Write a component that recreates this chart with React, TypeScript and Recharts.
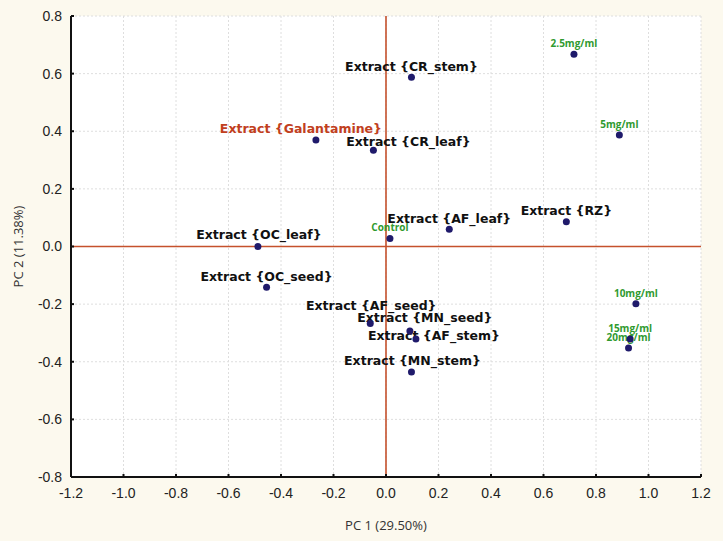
import { ScatterChart, Scatter, XAxis, YAxis, CartesianGrid, ReferenceLine } from 'recharts';

// plant extracts
const EXTRACT_NAMES = [
  'Extract {CR_stem}',
  'Extract {CR_leaf}',
  'Extract {OC_leaf}',
  'Extract {AF_leaf}',
  'Extract {RZ}',
  'Extract {OC_seed}',
  'Extract {AF_seed}',
  'Extract {MN_seed}',
  'Extract {AF_stem}',
  'Extract {MN_stem}',
];
const EXTRACT_PC1 = [0.097, -0.048, -0.488, 0.241, 0.687, -0.455, -0.06, 0.091, 0.114, 0.097];
const EXTRACT_PC2 = [0.587, 0.334, 0.0, 0.06, 0.086, -0.141, -0.267, -0.293, -0.321, -0.436];

// reference drug
const DRUG_NAMES = ['Extract {Galantamine}'];
const DRUG_PC1 = [-0.267];
const DRUG_PC2 = [0.37];

// control + concentrations
const STANDARD_NAMES = ['Control', '2.5mg/ml', '5mg/ml', '10mg/ml', '15mg/ml', '20mg/ml'];
const STANDARD_PC1 = [0.015, 0.716, 0.889, 0.952, 0.93, 0.924];
const STANDARD_PC2 = [0.028, 0.667, 0.387, -0.199, -0.321, -0.352];

const TICKS = [-1.2, -1.0, -0.8, -0.6, -0.4, -0.2, 0, 0.2, 0.4, 0.6, 0.8, 1.0, 1.2];
const Y_TICKS = [-0.8, -0.6, -0.4, -0.2, 0, 0.2, 0.4, 0.6, 0.8];

// label placement relative to the dot (text centre)
const LABEL_SHIFT: Record<string, [number, number]> = {
  'Extract {Galantamine}': [-15, -11],
  'Extract {CR_leaf}': [35, -9],
  'Extract {AF_seed}': [1, -18],
  'Extract {MN_seed}': [15, -13],
  'Extract {AF_stem}': [18, -3],
  'Extract {OC_leaf}': [1, -12],
  'Extract {MN_stem}': [1, -12],
};

const toPoints = (names: string[], xs: number[], ys: number[]) =>
  names.map((name, i) => ({ name, x: xs[i], y: ys[i] }));

const extracts = toPoints(EXTRACT_NAMES, EXTRACT_PC1, EXTRACT_PC2);
const drug = toPoints(DRUG_NAMES, DRUG_PC1, DRUG_PC2);
const standards = toPoints(STANDARD_NAMES, STANDARD_PC1, STANDARD_PC2);

const AXIS_RED = '#c5512c';
const DOT = '#1f1a6b';
const tickStyle = { fontSize: 14, fill: '#222', fontFamily: 'Liberation Sans, Arial, sans-serif' };

const makeLabel = (color: string, font: string, size: number) => (props: any) => {
  const { cx, cy, payload } = props;
  const [dx, dy] = LABEL_SHIFT[payload.name] ?? [0, -11];
  return (
    <text
      x={cx + dx}
      y={cy + dy}
      textAnchor="middle"
      dominantBaseline="central"
      fill={color}
      fontFamily={font}
      fontWeight="bold"
      fontSize={size}
    >
      {payload.name}
    </text>
  );
};

const dotShape = (props: any) => <circle cx={props.cx} cy={props.cy} r={3.5} fill={DOT} />;

export default function App() {
  return (
    <div style={{ position: 'fixed', left: 0, top: 0, width: 723, height: 541, background: '#fcf9ee' }}>
      <ScatterChart width={723} height={541} margin={{ top: 16, right: 22, bottom: 24, left: 0 }}>
        <CartesianGrid fill="#fff" stroke="#dedede" strokeDasharray="2 2" />
        <XAxis
          type="number"
          dataKey="x"
          domain={[-1.2, 1.2]}
          ticks={TICKS}
          tickFormatter={(v: number) => v.toFixed(1)}
          allowDataOverflow
          height={40}
          stroke="#111"
          strokeWidth={2}
          tickSize={-3}
          tickMargin={14}
          tick={tickStyle}
          label={(p: any) => {
            const vb = p.viewBox;
            return (
              <text
                x={vb.x + vb.width / 2}
                y={vb.y + 48}
                textAnchor="middle"
                dominantBaseline="central"
                fontFamily="Open Sans, sans-serif"
                fontSize={13}
                fill="#333"
              >
                PC 1 (29.50%)
              </text>
            );
          }}
        />
        <XAxis
          xAxisId="top"
          orientation="top"
          type="number"
          dataKey="x"
          domain={[-1.2, 1.2]}
          ticks={TICKS}
          allowDataOverflow
          height={0}
          stroke="#111"
          strokeWidth={2}
          tickSize={-3}
          tick={false}
        />
        <YAxis
          type="number"
          dataKey="y"
          domain={[-0.8, 0.8]}
          ticks={Y_TICKS}
          tickFormatter={(v: number) => v.toFixed(1)}
          allowDataOverflow
          width={71}
          stroke="#111"
          strokeWidth={2}
          tickSize={-3}
          tickMargin={12}
          tick={tickStyle}
          label={(p: any) => {
            const vb = p.viewBox;
            const cx = vb.x + 18;
            const cy = vb.y + vb.height / 2;
            return (
              <text
                x={cx}
                y={cy}
                transform={`rotate(-90 ${cx} ${cy})`}
                textAnchor="middle"
                dominantBaseline="central"
                fontFamily="Open Sans, sans-serif"
                fontSize={13}
                fill="#333"
              >
                PC 2 (11.38%)
              </text>
            );
          }}
        />
        <YAxis
          yAxisId="right"
          orientation="right"
          type="number"
          dataKey="y"
          domain={[-0.8, 0.8]}
          ticks={Y_TICKS}
          allowDataOverflow
          width={0}
          stroke="#111"
          strokeWidth={2}
          tickSize={-3}
          tick={false}
        />
        <ReferenceLine x={0} stroke={AXIS_RED} strokeWidth={1.6} />
        <ReferenceLine y={0} stroke={AXIS_RED} strokeWidth={1.6} />

        <Scatter data={extracts} isAnimationActive={false} shape={makeLabel('#111', 'DejaVu Sans, sans-serif', 12.5)} />
        <Scatter data={drug} isAnimationActive={false} shape={makeLabel('#c1401e', 'DejaVu Sans, sans-serif', 12.5)} />
        <Scatter data={standards} isAnimationActive={false} shape={makeLabel('#2f9a2f', 'Open Sans, sans-serif', 10)} />

        <Scatter data={extracts} isAnimationActive={false} shape={dotShape} />
        <Scatter data={drug} isAnimationActive={false} shape={dotShape} />
        <Scatter data={standards} isAnimationActive={false} shape={dotShape} />
      </ScatterChart>
    </div>
  );
}
